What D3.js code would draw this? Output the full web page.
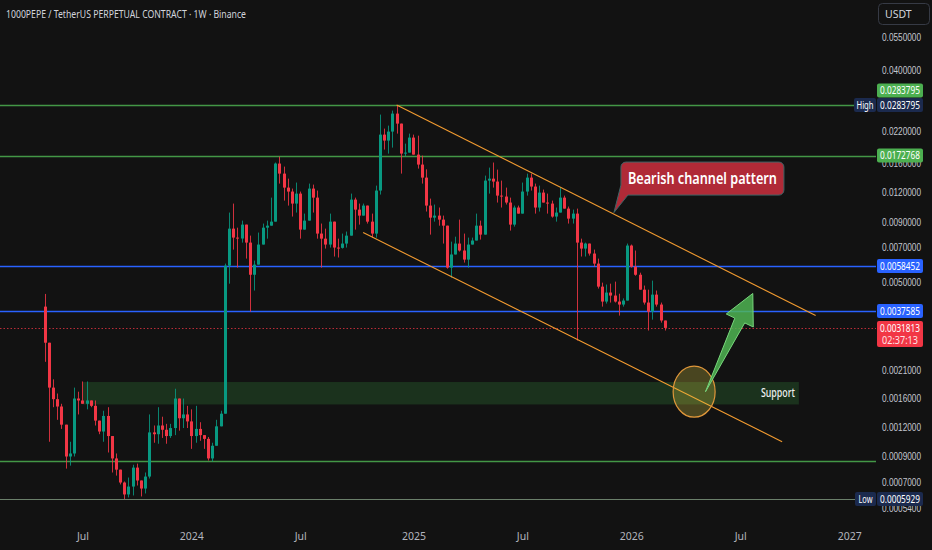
<!DOCTYPE html>
<html>
<head>
<meta charset="utf-8">
<script src="https://cdn.jsdelivr.net/npm/d3@7"></script>
<style>
  body { margin: 0; background: #121212; }
  svg { display: block; font-family: "Noto Sans", "DejaVu Sans", sans-serif; }
</style>
</head>
<body>
<svg id="chart" width="932" height="550"></svg>
<script>
// weekly candles, first bar on the week of 2023-05-01
const firstWeek = "2023-05-01";
const firstOpen = 0.00392;

const closes = [
    0.00275, 0.00177, 0.00158, 0.00147, 0.00123, 0.00090, 0.000927, 0.00159, 0.00156, 0.00151,
    0.00156, 0.00148, 0.00128, 0.00115, 0.00134, 0.00110, 0.000883, 0.000791, 0.000697, 0.00062,
    0.00067, 0.000807, 0.000711, 0.000657, 0.000739, 0.00114, 0.00112, 0.00122, 0.00117, 0.00110,
    0.00119, 0.00159, 0.00131, 0.00136, 0.00127, 0.00110, 0.00118, 0.00111, 0.00107, 0.000883,
    0.00100, 0.00121, 0.00137, 0.00586, 0.00843, 0.00772, 0.00765, 0.00877, 0.00735, 0.00536,
    0.00592, 0.00721, 0.00851, 0.00868, 0.00903, 0.01597, 0.01447, 0.01261, 0.01213, 0.01078,
    0.01189, 0.00835, 0.00912, 0.01249, 0.01143, 0.00803, 0.00764, 0.00721, 0.00903, 0.00700,
    0.00698, 0.00728, 0.00787, 0.01121, 0.01016, 0.00958, 0.01057, 0.00903, 0.00803, 0.01225,
    0.02122, 0.02001, 0.02186, 0.02608, 0.02364, 0.01761, 0.01778, 0.02061, 0.01744, 0.01581,
    0.01391, 0.01057, 0.00939, 0.00958, 0.00921, 0.00868, 0.00575, 0.00654, 0.00728, 0.00680,
    0.00622, 0.00721, 0.00750, 0.00868, 0.00795, 0.01351, 0.01377, 0.01338, 0.01166, 0.01155,
    0.01089, 0.00877, 0.01037, 0.00977, 0.01213, 0.01391, 0.01274, 0.01037, 0.01201, 0.01089,
    0.01078, 0.00949, 0.00987, 0.01143, 0.01026, 0.00930, 0.00977, 0.00735, 0.00693, 0.00728,
    0.00660, 0.00598, 0.00477, 0.00412, 0.00450, 0.00437, 0.00412, 0.00400, 0.00416, 0.00714,
    0.00580, 0.00536, 0.00463, 0.00408, 0.00373, 0.00441, 0.00400, 0.00342, 0.0031813
];

const highs = [
    0.00444, 0.00275, 0.00192, 0.00167, 0.00151, 0.00123, 0.00104, 0.00177, 0.00170, 0.00188,
    0.00188, 0.00156, 0.00156, 0.00128, 0.00141, 0.00146, 0.00110, 0.000927, 0.000791, 0.000704,
    0.000732, 0.00083, 0.000839, 0.000711, 0.000769, 0.00136, 0.00122, 0.00146, 0.00133, 0.00124,
    0.00124, 0.00175, 0.00159, 0.00159, 0.00148, 0.00143, 0.00148, 0.00126, 0.00111, 0.00109,
    0.00103, 0.00129, 0.00141, 0.00598, 0.00987, 0.01078, 0.00851, 0.00912, 0.00877, 0.00787,
    0.00616, 0.00811, 0.00886, 0.00912, 0.01143, 0.01613, 0.0171, 0.0155, 0.01377, 0.01249,
    0.01325, 0.01213, 0.00977, 0.01312, 0.01299, 0.01225, 0.00886, 0.00843, 0.00977, 0.00903,
    0.00764, 0.00803, 0.00819, 0.01189, 0.01143, 0.01078, 0.01078, 0.01057, 0.00977, 0.01286,
    0.02583, 0.02251, 0.02318, 0.02686, 0.0283795, 0.02364, 0.01942, 0.02143, 0.02122, 0.0210,
    0.01727, 0.01509, 0.01132, 0.01068, 0.01037, 0.00958, 0.00868, 0.00742, 0.00779, 0.00921,
    0.00803, 0.00772, 0.00772, 0.00977, 0.00912, 0.01419, 0.01535, 0.01613, 0.01505, 0.01351,
    0.01261, 0.01143, 0.01057, 0.01057, 0.01325, 0.01447, 0.01447, 0.01312, 0.01286, 0.01237,
    0.01189, 0.0111, 0.01037, 0.01261, 0.01166, 0.01047, 0.01016, 0.01026, 0.00764, 0.00735,
    0.00728, 0.00686, 0.00628, 0.00496, 0.00487, 0.00491, 0.00501, 0.00445, 0.00425, 0.00728,
    0.00721, 0.0068, 0.00547, 0.00482, 0.00463, 0.00506, 0.00459, 0.00408, 0.00342
];

const lows = [
    0.00228, 0.00104, 0.00146, 0.00129, 0.00118, 0.000799, 0.000823, 0.0009, 0.00136, 0.00151,
    0.00143, 0.00146, 0.00122, 0.00112, 0.00104, 0.000936, 0.000769, 0.000746, 0.000684, 0.0005929,
    0.000602, 0.000614, 0.000677, 0.000608, 0.000626, 0.000725, 0.00103, 0.00102, 0.00108, 0.00102,
    0.00108, 0.00111, 0.00116, 0.00119, 0.00119, 0.00097, 0.00103, 0.00105, 0.00097, 0.000865,
    0.000857, 0.0010, 0.00121, 0.00137, 0.00491, 0.00686, 0.00575, 0.00735, 0.00628, 0.00373,
    0.00459, 0.00592, 0.00721, 0.00764, 0.00868, 0.00903, 0.01312, 0.0111, 0.01057, 0.00949,
    0.00987, 0.00764, 0.00835, 0.00912, 0.00987, 0.00764, 0.00575, 0.00693, 0.0070, 0.00641,
    0.00635, 0.00693, 0.0070, 0.00787, 0.00835, 0.00877, 0.00958, 0.00886, 0.00772, 0.00772,
    0.01178, 0.01832, 0.01761, 0.01868, 0.02143, 0.01447, 0.0171, 0.01778, 0.01744, 0.0152,
    0.01312, 0.00997, 0.00795, 0.00903, 0.00868, 0.00728, 0.00569, 0.00521, 0.00654, 0.00673,
    0.00604, 0.00575, 0.00721, 0.0075, 0.00757, 0.00795, 0.01189, 0.01261, 0.01089, 0.01037,
    0.01068, 0.00827, 0.0086, 0.00977, 0.00977, 0.01166, 0.01225, 0.00977, 0.00997, 0.01089,
    0.00977, 0.00939, 0.00903, 0.00987, 0.01026, 0.00886, 0.00886, 0.00281, 0.00641, 0.00641,
    0.00647, 0.0058, 0.00468, 0.00392, 0.00404, 0.00408, 0.00408, 0.00359, 0.00392, 0.00416,
    0.00575, 0.00531, 0.00463, 0.0040, 0.0031, 0.00345, 0.00392, 0.00335, 0.0031
];

// price scale ticks and time axis labels
const priceTicks = [0.055, 0.04, 0.022, 0.016, 0.012, 0.009, 0.007, 0.005,
    0.0028, 0.0021, 0.0016, 0.0012, 0.0009, 0.0007, 0.00054];
const timeTickDates = ["2023-07-03", "2024-01-01", "2024-07-01", "2025-01-06",
    "2025-07-07", "2026-01-05", "2026-07-06", "2027-01-04"];
const timeTickLabels = ["Jul", "2024", "Jul", "2025", "Jul", "2026", "Jul", "2027"];

// drawn levels
const allTimeHigh = 0.0283795;
const allTimeLow = 0.0005929;
const greenLevels = [0.0283795, 0.0172768, 0.000857];
const greenLabels = [0.0283795, 0.0172768];
const blueLevels = [0.0058452, 0.0037585];
const lastPrice = 0.0031813;
const countdown = "02:37:13";

// drawings: [date, price]
const channelUpper = [["2024-12-09", 0.0283795], ["2026-11-09", 0.00359]];
const channelLower = [["2024-10-14", 0.00811], ["2026-09-14", 0.00104]];
const supportZone = [["2023-07-03", 0.00187], ["2026-10-12", 0.00150]];
const targetCircle = ["2026-04-20", 0.00170];
const arrowFrom = ["2026-05-09", 0.00170];
const arrowTo = ["2026-07-27", 0.00446];
const calloutAnchor = ["2025-12-07", 0.00987];

const title = "1000PEPE / TetherUS PERPETUAL CONTRACT · 1W · Binance";

const parse = d3.utcParse("%Y-%m-%d");
const start = parse(firstWeek);
const n = Math.min(closes.length, highs.length, lows.length);
const bars = d3.range(n).map(i => ({
    date: d3.utcMonday.offset(start, i),
    open: i ? closes[i - 1] : firstOpen,
    close: closes[i],
    high: highs[i],
    low: lows[i]
}));

const svg = d3.select("#chart");
const width = 932, height = 550;
const scaleX = 876;

svg.append("rect").attr("width", width).attr("height", height).attr("fill", "#121212");

const x = d3.scaleUtc()
    .domain([start, d3.utcMonday.offset(start, 148)])
    .range([44.7, 664.8]);

const y = d3.scaleLog()
    .domain([allTimeHigh, allTimeLow])
    .range([105, 499]);

const pt = p => [x(parse(p[0])), y(p[1])];

const up = "#089981", down = "#f23645";

// support zone
const z0 = pt(supportZone[0]), z1 = pt(supportZone[1]);
svg.append("rect")
    .attr("x", z0[0]).attr("y", z0[1])
    .attr("width", z1[0] - z0[0]).attr("height", z1[1] - z0[1])
    .attr("fill", "rgba(56,142,60,0.26)");

svg.append("text")
    .attr("x", z1[0] - 4).attr("y", (z0[1] + z1[1]) / 2)
    .attr("dy", "0.35em")
    .attr("text-anchor", "end")
    .attr("fill", "#f0f0f0")
    .attr("font-size", 12)
    .attr("font-weight", 500)
    .attr("textLength", 34)
    .attr("lengthAdjust", "spacingAndGlyphs")
    .text("Support");

// horizontal levels
const hline = (p, color, opacity, w, dash) => {
    svg.append("line")
        .attr("x1", 0).attr("x2", scaleX)
        .attr("y1", Math.round(y(p)) + 0.5).attr("y2", Math.round(y(p)) + 0.5)
        .attr("stroke", color)
        .attr("stroke-opacity", opacity)
        .attr("stroke-width", w)
        .attr("stroke-dasharray", dash || null);
};
greenLevels.forEach(p => hline(p, "#4caf50", 0.85, 1.3));
hline(allTimeLow, "#7a937a", 0.85, 1.2);
blueLevels.forEach(p => hline(p, "#2962ff", 1, 1.5));
hline(lastPrice, "#f23645", 0.75, 1, "1.5,2");

// candles
const candle = svg.append("g")
    .selectAll("g")
    .data(bars)
    .enter().append("g");

candle.append("line")
    .attr("x1", d => Math.round(x(d.date)) + 0.5)
    .attr("x2", d => Math.round(x(d.date)) + 0.5)
    .attr("y1", d => y(Math.max(d.high, d.open, d.close)))
    .attr("y2", d => y(Math.min(d.low, d.open, d.close)))
    .attr("stroke", d => d.close >= d.open ? up : down)
    .attr("stroke-opacity", 0.85);

candle.append("rect")
    .attr("x", d => Math.round(x(d.date)) - 1)
    .attr("width", 3)
    .attr("y", d => y(Math.max(d.open, d.close)))
    .attr("height", d => Math.max(1, Math.abs(y(d.open) - y(d.close))))
    .attr("fill", d => d.close >= d.open ? up : down);

// bearish channel
[channelUpper, channelLower].forEach(c => {
    const a = pt(c[0]), b = pt(c[1]);
    svg.append("line")
        .attr("x1", a[0]).attr("y1", a[1])
        .attr("x2", b[0]).attr("y2", b[1])
        .attr("stroke", "#f29b30")
        .attr("stroke-width", 1.1);
});

// circle on the support
const cc = pt(targetCircle);
svg.append("ellipse")
    .attr("cx", cc[0]).attr("cy", cc[1])
    .attr("rx", 21).attr("ry", 25.5)
    .attr("fill", "rgba(214,200,70,0.28)")
    .attr("stroke", "#e0973a")
    .attr("stroke-width", 1.2);

// arrow
const t = pt(arrowFrom), h = pt(arrowTo);
const dx = h[0] - t[0], dy = h[1] - t[1];
const len = Math.hypot(dx, dy);
const ux = dx / len, uy = dy / len;
const nx = -uy, ny = ux;
const headLen = 30, headHalf = 15, shaftHalf = 5.5;
const bx = h[0] - ux * headLen, by = h[1] - uy * headLen;
const arrowPts = [
    t,
    [bx - nx * shaftHalf, by - ny * shaftHalf],
    [bx - nx * headHalf, by - ny * headHalf],
    h,
    [bx + nx * headHalf, by + ny * headHalf],
    [bx + nx * shaftHalf, by + ny * shaftHalf]
];
svg.append("path")
    .attr("d", d3.line()(arrowPts) + "Z")
    .attr("fill", "rgba(80,185,84,0.82)")
    .attr("stroke", "#78d67c")
    .attr("stroke-width", 1)
    .attr("stroke-linejoin", "round");

// callout
const an = pt(calloutAnchor);
const bL = an[0] + 7, bR = an[0] + 170, bT = an[1] - 50.5, bB = an[1] - 17.5, r = 5;
const callout = d3.path();
callout.moveTo(bL + r, bT);
callout.lineTo(bR - r, bT);
callout.arcTo(bR, bT, bR, bT + r, r);
callout.lineTo(bR, bB - r);
callout.arcTo(bR, bB, bR - r, bB, r);
callout.lineTo(bL + 7, bB);
callout.lineTo(an[0], an[1]);
callout.lineTo(bL, bB - 10);
callout.lineTo(bL, bT + r);
callout.arcTo(bL, bT, bL + r, bT, r);
callout.closePath();
svg.append("path")
    .attr("d", callout.toString())
    .attr("fill", "#b02a37")
    .attr("stroke", "#3e6466")
    .attr("stroke-width", 1);
svg.append("text")
    .attr("x", bL + 7).attr("y", bT + 21.5)
    .attr("fill", "#ffffff")
    .attr("font-size", 15.5)
    .attr("font-weight", 600)
    .attr("textLength", 149)
    .attr("lengthAdjust", "spacingAndGlyphs")
    .text("Bearish channel pattern");

// title
svg.append("text")
    .attr("x", 6).attr("y", 18)
    .attr("fill", "#d1d4dc")
    .attr("font-size", 11.5)
    .attr("textLength", 240)
    .attr("lengthAdjust", "spacingAndGlyphs")
    .text(title);

// time axis
const xAxis = svg.append("g")
    .attr("transform", "translate(0,533)")
    .call(d3.axisBottom(x)
        .tickValues(timeTickDates.map(parse))
        .tickFormat((d, i) => timeTickLabels[i])
        .tickSize(0)
        .tickPadding(0));
xAxis.select(".domain").remove();
xAxis.selectAll("text")
    .attr("fill", "#b2b5be")
    .attr("font-size", 10.5)
    .attr("font-family", "Noto Sans");

// price axis
const yAxis = svg.append("g")
    .attr("transform", "translate(882,0)")
    .call(d3.axisRight(y)
        .tickValues(priceTicks)
        .tickFormat(d => d.toFixed(7))
        .tickSize(0)
        .tickPadding(0));
yAxis.select(".domain").remove();
yAxis.selectAll("text")
    .attr("fill", "#c3c6ce")
    .attr("font-size", 10)
    .attr("font-family", "Liberation Sans")
    .attr("textLength", 39)
    .attr("lengthAdjust", "spacingAndGlyphs");

// USDT box
svg.append("rect")
    .attr("x", 878.5).attr("y", 3.5).attr("width", 51).attr("height", 21).attr("rx", 4)
    .attr("fill", "#121212").attr("stroke", "#363a45");
svg.append("text")
    .attr("x", 885).attr("y", 14).attr("dy", "0.35em")
    .attr("fill", "#d1d4dc").attr("font-size", 10.5)
    .text("USDT");

// price tags
const tag = (yc, txt, fill, x0, w, tl) => {
    svg.append("rect")
        .attr("x", x0).attr("y", yc - 7).attr("width", w).attr("height", 14).attr("rx", 2)
        .attr("fill", fill);
    svg.append("text")
        .attr("x", x0 + w / 2).attr("y", yc).attr("dy", "0.35em")
        .attr("text-anchor", "middle")
        .attr("fill", "#ffffff").attr("font-size", 11)
        .attr("textLength", tl)
        .attr("lengthAdjust", "spacingAndGlyphs")
        .text(txt);
};
const fmt = d => d.toFixed(7);

greenLabels.forEach(p => {
    const yc = p === allTimeHigh ? y(p) - 14.5 : y(p);
    tag(yc, fmt(p), "#4caf50", 877, 46, 40);
});
blueLevels.forEach(p => tag(y(p), fmt(p), "#2962ff", 877, 46, 40));

tag(y(allTimeHigh), fmt(allTimeHigh), "#1b2a4e", 877, 46, 40);
tag(y(allTimeHigh), "High", "#1b2a4e", 854, 22, 17);
tag(y(allTimeLow), fmt(allTimeLow), "#1b2a4e", 877, 46, 40);
tag(y(allTimeLow), "Low", "#1b2a4e", 855, 21, 14);

// last price with countdown
const ly = y(lastPrice);
svg.append("rect")
    .attr("x", 877).attr("y", ly - 7).attr("width", 46).attr("height", 26).attr("rx", 2)
    .attr("fill", "#f23645");
svg.append("text")
    .attr("x", 900).attr("y", ly).attr("dy", "0.35em")
    .attr("text-anchor", "middle").attr("fill", "#ffffff").attr("font-size", 11)
    .attr("textLength", 40).attr("lengthAdjust", "spacingAndGlyphs")
    .text(fmt(lastPrice));
svg.append("text")
    .attr("x", 900).attr("y", ly + 12.5).attr("dy", "0.35em")
    .attr("text-anchor", "middle").attr("fill", "#ffe4e6").attr("font-size", 10.5)
    .attr("textLength", 36).attr("lengthAdjust", "spacingAndGlyphs")
    .text(countdown);
</script>
</body>
</html>
